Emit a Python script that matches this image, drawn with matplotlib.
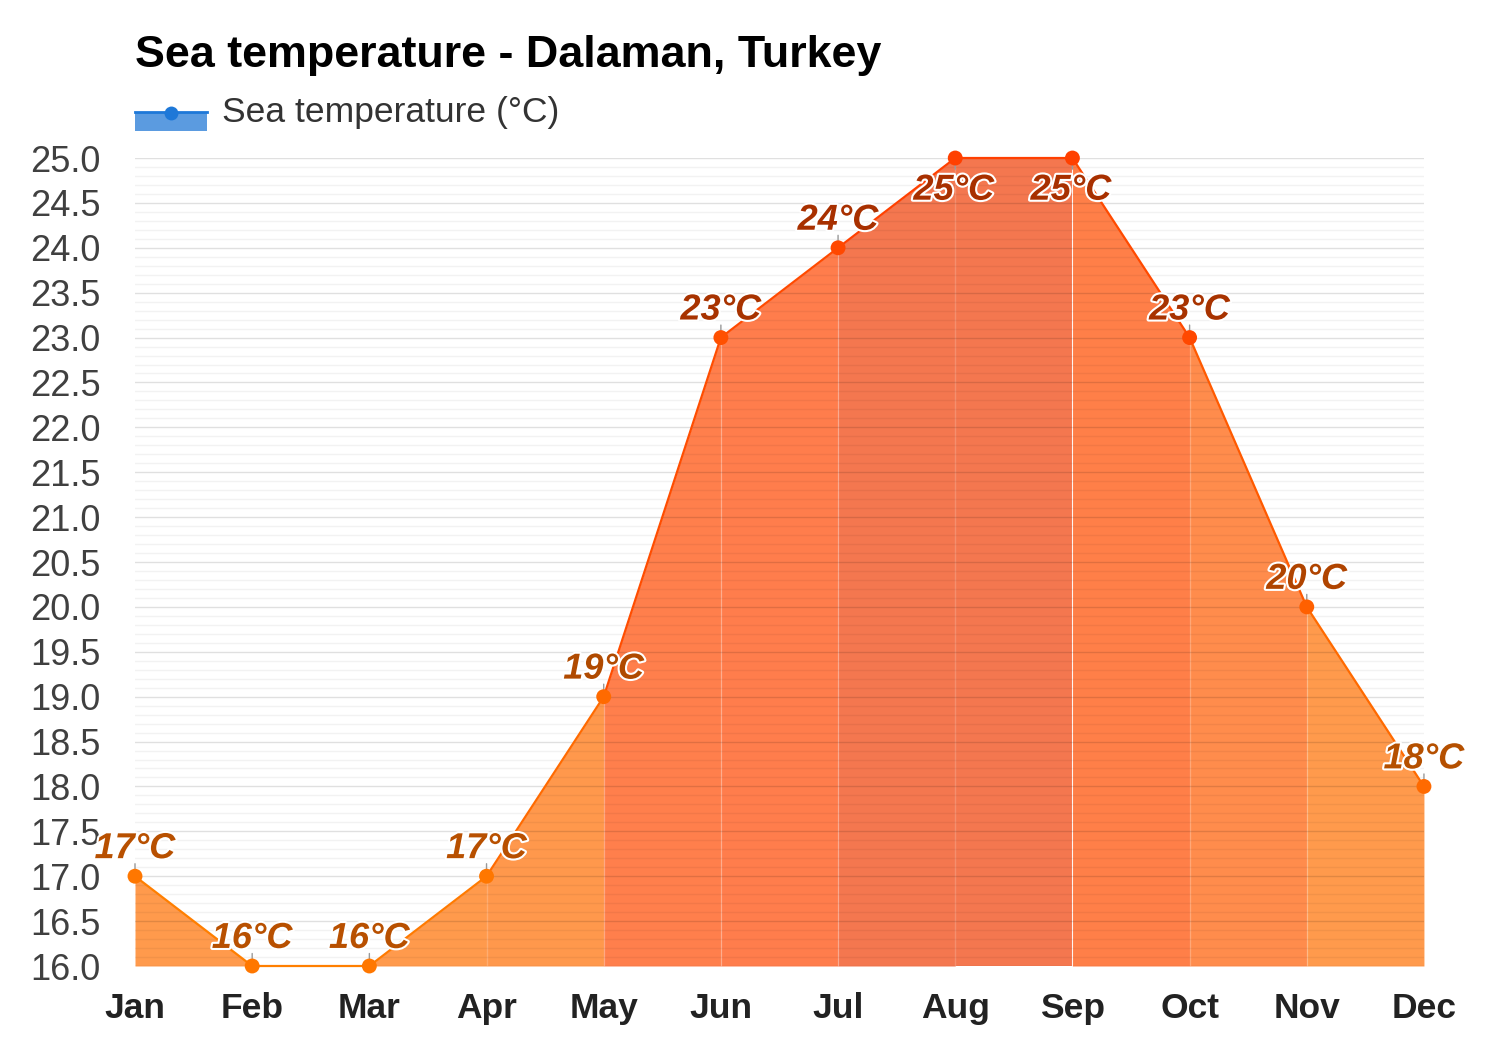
import matplotlib
matplotlib.use('Agg')
import matplotlib.pyplot as plt
import matplotlib.patheffects as pe
from matplotlib.patches import Rectangle
from matplotlib.lines import Line2D
import numpy as np

plt.rcParams['font.family'] = ['Liberation Sans', 'DejaVu Sans']

# ---- data ----
months = ['Jan', 'Feb', 'Mar', 'Apr', 'May', 'Jun', 'Jul', 'Aug', 'Sep', 'Oct', 'Nov', 'Dec']
sea_temp = [17, 16, 16, 17, 19, 23, 24, 25, 25, 23, 20, 18]
y_ticks = [16.0, 16.5, 17.0, 17.5, 18.0, 18.5, 19.0, 19.5, 20.0, 20.5, 21.0, 21.5,
           22.0, 22.5, 23.0, 23.5, 24.0, 24.5, 25.0]
title = 'Sea temperature - Dalaman, Turkey'
series_name = 'Sea temperature (°C)'

# ---- styles ----
segment_fill = ['#FF9A4C', '#FF9A4C', '#FF9A4C', '#FF984C', '#FF7F4C', '#FF7D4C',
                '#F4774F', '#F4774F', '#FF7F48', '#FF8C4C', '#FF9A4C']
segment_line = ['#FF7F00', '#FF7F00', '#FF7A00', '#FF6A00', '#FF4D00', '#FF4A00',
                '#FF4000', '#FF4000', '#FF4A00', '#FF5A00', '#FF6A00']
marker_colors = ['#FF7700', '#FF7700', '#FF7700', '#FF7700', '#FF6A00', '#FF5000',
                 '#FF4800', '#FF4000', '#FF4000', '#FF4800', '#FF6000', '#FF6A00']
label_colors = ['#B85000', '#B85000', '#B85000', '#B85000', '#B04A00', '#A83300',
                '#A83000', '#A83000', '#A83000', '#A83300', '#B04400', '#B55000']
label_below = [False, False, False, False, False, False, False, True, True, False, False, False]

fig = plt.figure(figsize=(15, 10.5), dpi=100)
fig.patch.set_facecolor('white')
ax = fig.add_axes([0.09, 0.08, 0.8593, 0.7695])
ax.set_facecolor('white')

x = np.arange(len(months))
ymin, ymax = 16, 25

for i in range(len(months) - 1):
    xs = [x[i], x[i + 1]]
    ys = [sea_temp[i], sea_temp[i + 1]]
    ax.fill_between(xs, ys, ymin, color=segment_fill[i], lw=0, zorder=1)
    ax.plot(xs, ys, color=segment_line[i], lw=1.6, zorder=3, clip_on=False,
            solid_capstyle='round')

ax.vlines(x[1:-1], ymin, sea_temp[1:-1], colors='white', alpha=0.18, lw=1, zorder=1.5)

ax.scatter(x, sea_temp, s=115, c=marker_colors, zorder=5, clip_on=False, linewidths=0)

for i, (xi, yi) in enumerate(zip(x, sea_temp)):
    if label_below[i]:
        ax.annotate('', xy=(xi, yi), xytext=(0, -8), textcoords='offset points',
                    arrowprops=dict(arrowstyle='-', color='#999999', lw=1, shrinkA=0, shrinkB=0),
                    zorder=4)
        ax.annotate(f'{yi}°C', xy=(xi, yi), xytext=(-1, -30), textcoords='offset points',
                    ha='center', va='baseline', fontsize=26, fontweight='bold', fontstyle='italic',
                    color=label_colors[i], zorder=6,
                    path_effects=[pe.withStroke(linewidth=3, foreground='white')])
    else:
        ax.annotate('', xy=(xi, yi), xytext=(0, 9), textcoords='offset points',
                    arrowprops=dict(arrowstyle='-', color='#999999', lw=1, shrinkA=0, shrinkB=0),
                    zorder=4)
        ax.annotate(f'{yi}°C', xy=(xi, yi), xytext=(0, 13), textcoords='offset points',
                    ha='center', va='baseline', fontsize=26, fontweight='bold', fontstyle='italic',
                    color=label_colors[i], zorder=6,
                    path_effects=[pe.withStroke(linewidth=3, foreground='white')])

ax.set_xlim(0, len(months) - 1)
ax.set_ylim(ymin, ymax)
ax.set_xticks(x)
ax.set_xticklabels(months, fontsize=25.5, fontweight='bold', color='#222222')
ax.set_yticks(y_ticks)
ax.set_yticklabels([f'{v:.1f}' for v in y_ticks], fontsize=26, color='#404040')
ax.set_yticks(np.arange(16, 25.001, 0.1), minor=True)
ax.tick_params(axis='both', which='both', length=0)
ax.tick_params(axis='y', pad=25)
ax.tick_params(axis='x', pad=19)
ax.set_axisbelow(False)
ax.grid(axis='y', which='major', color='black', alpha=0.12, lw=1)
ax.grid(axis='y', which='minor', color='black', alpha=0.05, lw=1)
ax.grid(axis='x', visible=False)
for s in ax.spines.values():
    s.set_visible(False)

# title
fig.text(0.09, 0.936, title, fontsize=32.3, fontweight='bold', color='black',
         ha='left', va='baseline')

# legend (manual)
fig.add_artist(Rectangle((0.09, 0.8752), 0.048, 0.0181, transform=fig.transFigure,
                         facecolor='#5B9BE0', edgecolor='none'))
fig.add_artist(Line2D([0.09, 0.138], [0.8933, 0.8933], transform=fig.transFigure,
                      color='#1E78D8', lw=2))
fig.add_artist(Line2D([0.114], [0.8924], transform=fig.transFigure, marker='o',
                      markersize=10, color='#1E78D8', markeredgewidth=0))
fig.text(0.148, 0.8838, series_name, fontsize=25.5, color='#333333', ha='left', va='baseline')

fig.savefig('out.png', dpi=100, facecolor='white')
